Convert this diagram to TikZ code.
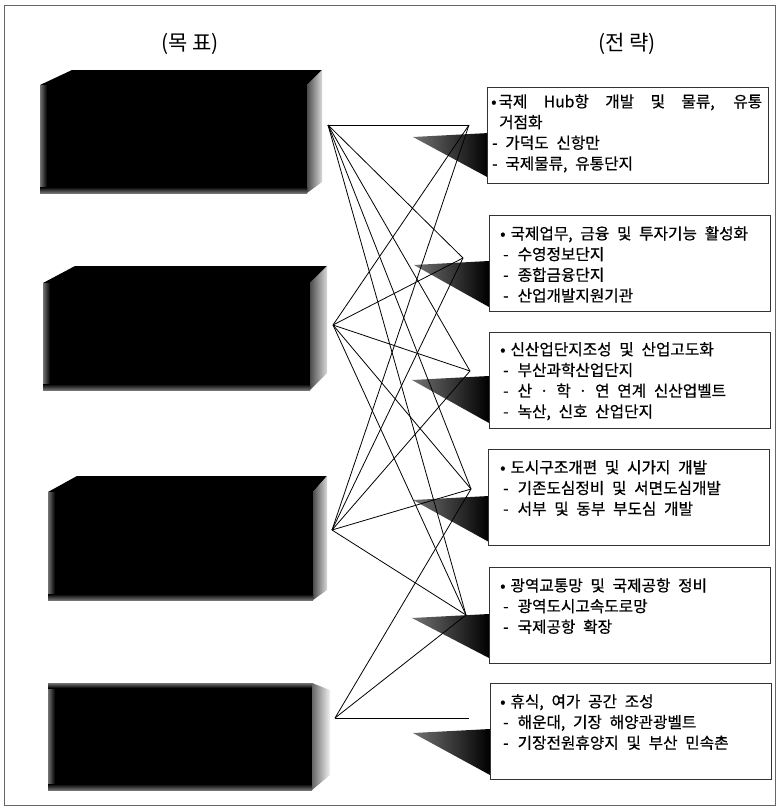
\documentclass[tikz,border=0pt]{standalone}
\usepackage{fontspec}
\setmainfont{Noto Sans CJK KR}[WordSpace=2.2, FakeBold=0.6]
\newfontfamily\headfont{Noto Sans CJK KR}
\newcommand\goalblock[8]{%
  % #1 x0  #2 y0 (front top)  #3 x1  #4 y1 (front bottom)
  % #5 top-face left x  #6 top-face top y  #7 right x  #8 right-face bottom y
  \fill[black] (#1,#2) rectangle (#3,#4);
  \fill[black] (#1,#2) -- (#5,#6) -- (#7,#6) -- (#3,#2) -- cycle;
  \shade[left color=black!70, right color=black!15] (#3,#2) -- (#7,#6) -- (#7,#8) -- (#3,#4) -- cycle;
  \shade[left color=black!55, right color=black] (#1,#2) rectangle (#1+7,#4);
  \shade[top color=black, bottom color=black!55] (#1,#4-6) rectangle (#3,#4);
}
\newcommand\bul{•\hspace{5pt}}
\newcommand\dsh{\hspace*{3pt}-\hspace{9pt}}
\begin{document}
\begin{tikzpicture}[x=1pt,y=-1pt,
  link/.style={draw=black, line width=0.8pt},
  stratbox/.style={draw=black!80, line width=0.7pt, fill=white, anchor=north west, inner sep=0pt, minimum width=281pt, minimum height=96pt},
  strattext/.style={anchor=north west, inner sep=0pt, align=left, font=\fontsize{15.7}{20.7}\selectfont},
  head/.style={font=\headfont\fontsize{21}{24}\selectfont},
  wedge/.style={left color=black!55, middle color=black!97, right color=black}]
\useasboundingbox (0,0) rectangle (779,808);
\draw[black!60, line width=0.6pt] (4,5) rectangle (775,805);

% headings
\node[head] (h1) at (190,44) {(목 표)};
\node[head] (h2) at (627,44) {(전 략)};

% goal blocks
\goalblock{40}{85}{307}{193}{72}{70}{322}{182}
\goalblock{43}{283}{310}{390}{75}{266}{327}{373}
\goalblock{48}{492}{313}{600}{77}{476}{327}{590}
\fill[black] (48,683) rectangle (312,790);
\shade[left color=black!55, right color=black] (48,683) rectangle (55,790);
\shade[top color=black!55, bottom color=black] (48,683) rectangle (312,688);
\shade[top color=black, bottom color=black!55] (48,784) rectangle (312,790);
\shade[left color=black!60, right color=black!5] (312,683) -- (330,690) -- (330,775) -- (312,790) -- cycle;

% connection points
\coordinate (G1) at (328,125);
\coordinate (G2) at (333,325);
\coordinate (G3) at (332,530);
\coordinate (G4) at (335,718);
\coordinate (C1) at (469,125);
\coordinate (C2) at (463,258);
\coordinate (C3) at (470,371);
\coordinate (C4) at (471,489);
\coordinate (C5) at (466,615);
\coordinate (C6) at (469,718);

% wedges
\shade[wedge] (413,137) -- (489,133) -- (489,178) -- cycle;
\shade[wedge] (414,265) -- (489,261) -- (489,307) -- cycle;
\shade[wedge] (412,380) -- (489,376) -- (489,423) -- cycle;
\shade[wedge] (413,500) -- (489,496) -- (489,542) -- cycle;
\shade[wedge] (412,618) -- (489,614) -- (489,658) -- cycle;
\shade[wedge] (413,733) -- (490,729) -- (490,775) -- cycle;

% links
\foreach \g/\c in {G1/C1,G1/C2,G1/C3,G1/C4,G1/C5,
                   G2/C1,G2/C2,G2/C3,G2/C4,G2/C5,
                   G3/C1,G3/C2,G3/C3,G3/C4,G3/C5,
                   G4/C4,G4/C5,G4/C6}
  \draw[link] (\g) -- (\c);

% strategy boxes
\node[stratbox] (s1) at (487,87) {};
\node[stratbox] (s2) at (489,215) {};
\node[stratbox] (s3) at (489,332) {};
\node[stratbox] (s4) at (488,449) {};
\node[stratbox] (s5) at (489,567) {};
\node[stratbox] (s6) at (490,683) {};

\node[strattext] (t1) at (491,94) {\makebox[271pt][s]{•\hspace{2pt}국제 Hub항 개발 및 물류, 유통}\\\hspace*{8pt}거점화\\\hspace*{1pt}- 가덕도 신항만\\\hspace*{1pt}- 국제물류, 유통단지};
\node[strattext] (t2) at (500,226) {\bul 국제업무, 금융 및 투자기능 활성화\\\dsh 수영정보단지\\\dsh 종합금융단지\\\dsh 산업개발지원기관};
\node[strattext] (t3) at (500,342) {\bul 신산업단지조성 및 산업고도화\\\dsh 부산과학산업단지\\\dsh 산 · 학 · 연 연계 신산업벨트\\\dsh 녹산, 신호 산업단지};
\node[strattext] (t4) at (500,460) {\bul 도시구조개편 및 시가지 개발\\\dsh 기존도심정비 및 서면도심개발\\\dsh 서부 및 동부 부도심 개발};
\node[strattext] (t5) at (500,578) {\bul 광역교통망 및 국제공항 정비\\\dsh 광역도시고속도로망\\\dsh 국제공항 확장};
\node[strattext] (t6) at (500,694) {\bul 휴식, 여가 공간 조성\\\dsh 해운대, 기장 해양관광벨트\\\dsh 기장전원휴양지 및 부산 민속촌};
\end{tikzpicture}
\end{document}
